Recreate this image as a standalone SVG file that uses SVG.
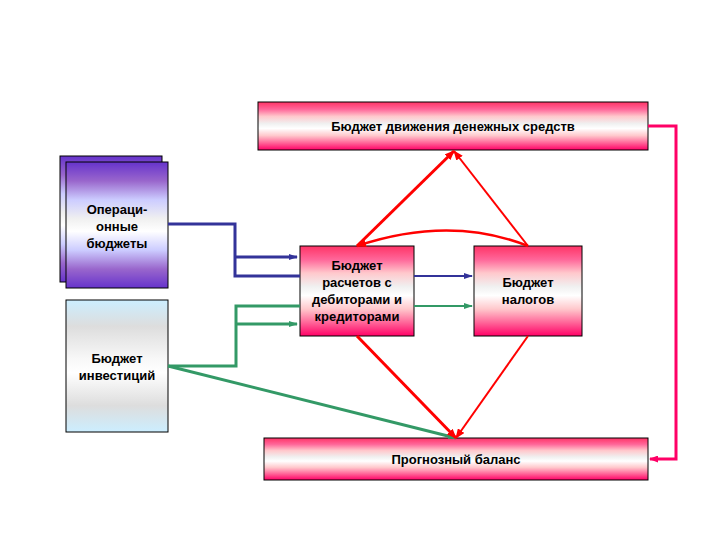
<svg xmlns="http://www.w3.org/2000/svg" width="720" height="540" viewBox="0 0 720 540">
<style>
text{font-family:"Liberation Sans",Arial,sans-serif;font-size:13px;font-weight:bold;fill:#000;text-anchor:middle}
.box{stroke:#000;stroke-width:1}
.c{fill:none}
</style>
<defs>
<linearGradient id="pink" x1="0" y1="0" x2="0" y2="1">
<stop offset="0" stop-color="#ff3366"/><stop offset="0.15" stop-color="#ff6699"/><stop offset="0.3" stop-color="#ffc8cc"/><stop offset="0.45" stop-color="#f0f0f0"/><stop offset="0.55" stop-color="#ffffff"/><stop offset="0.7" stop-color="#ffc8cc"/><stop offset="0.85" stop-color="#ff6699"/><stop offset="1" stop-color="#ff0066"/>
</linearGradient>
<linearGradient id="violet" x1="0" y1="0" x2="0" y2="1">
<stop offset="0" stop-color="#6633cc"/><stop offset="0.15" stop-color="#9966cc"/><stop offset="0.3" stop-color="#ccccff"/><stop offset="0.45" stop-color="#f0f0f0"/><stop offset="0.55" stop-color="#ffffff"/><stop offset="0.7" stop-color="#ccccff"/><stop offset="0.85" stop-color="#9966cc"/><stop offset="1" stop-color="#6633cc"/>
</linearGradient>
<linearGradient id="blue" x1="0" y1="0" x2="0" y2="1">
<stop offset="0" stop-color="#cceeff"/><stop offset="0.2" stop-color="#dddddd"/><stop offset="0.45" stop-color="#f8f8f8"/><stop offset="0.55" stop-color="#ffffff"/><stop offset="0.8" stop-color="#dddddd"/><stop offset="1" stop-color="#cceeff"/>
</linearGradient>
<marker id="ar" markerWidth="10" markerHeight="8" refX="9" refY="4" orient="auto" markerUnits="userSpaceOnUse"><path d="M0,0L10,4L0,8z" fill="#ff0000"/></marker>
<marker id="ab" markerWidth="9" markerHeight="6" refX="8" refY="3" orient="auto" markerUnits="userSpaceOnUse"><path d="M0,0L9,3L0,6z" fill="#333399"/></marker>
<marker id="ag" markerWidth="9" markerHeight="6" refX="8" refY="3" orient="auto" markerUnits="userSpaceOnUse"><path d="M0,0L9,3L0,6z" fill="#339966"/></marker>
<marker id="ap" markerWidth="9" markerHeight="7" refX="8" refY="3.5" orient="auto" markerUnits="userSpaceOnUse"><path d="M0,0L9,3.5L0,7z" fill="#ff0066"/></marker>
</defs>
<rect width="720" height="540" fill="#fff"/>
<g id="cashflow"><rect class="box" x="258" y="102" width="390" height="48" fill="url(#pink)"/><text x="453" y="131">Бюджет движения денежных средств</text></g>
<g id="forecast"><rect class="box" x="264" y="438" width="384" height="42" fill="url(#pink)"/><text x="456" y="464">Прогнозный баланс</text></g>
<g id="settlements"><rect class="box" x="300" y="246" width="114" height="90" fill="url(#pink)"/>
<text x="357" y="270">Бюджет</text><text x="357" y="287">расчетов с</text><text x="357" y="304">дебиторами и</text><text x="357" y="321">кредиторами</text></g>
<g id="taxes"><rect class="box" x="474" y="246" width="108" height="90" fill="url(#pink)"/><text x="528" y="287">Бюджет</text><text x="528" y="304">налогов</text></g>
<g id="operational"><rect class="box" x="60" y="156" width="102" height="126" fill="url(#violet)"/><rect class="box" x="66" y="162" width="102" height="126" fill="url(#violet)"/>
<text x="117" y="214">Операци-</text><text x="117" y="231">онные</text><text x="117" y="248">бюджеты</text></g>
<g id="investment"><rect class="box" x="66" y="300" width="102" height="132" fill="url(#blue)"/><text x="117" y="363">Бюджет</text><text x="117" y="380">инвестиций</text></g>
<g id="connectors" class="c">
<path d="M168,224H235V276H300" stroke="#333399" stroke-width="3"/>
<path d="M235,257H297" stroke="#333399" stroke-width="3" marker-end="url(#ab)"/>
<path d="M414,276H472" stroke="#333399" stroke-width="2" marker-end="url(#ab)"/>
<path d="M168,366H236V306H300" stroke="#339966" stroke-width="3"/>
<path d="M236,324H297" stroke="#339966" stroke-width="3" marker-end="url(#ag)"/>
<path d="M414,306H472" stroke="#339966" stroke-width="2" marker-end="url(#ag)"/>
<path d="M168,366L456,438" stroke="#339966" stroke-width="3" marker-end="url(#ag)"/>
<path d="M357,246L454,151" stroke="#ff0000" stroke-width="3" marker-end="url(#ar)"/>
<path d="M528,246L454,151" stroke="#ff0000" stroke-width="2" marker-end="url(#ar)"/>
<path d="M528,246Q450,215 357,246" stroke="#ff0000" stroke-width="2.5" marker-end="url(#ar)"/>
<path d="M357,336L456,438" stroke="#ff0000" stroke-width="3" marker-end="url(#ar)"/>
<path d="M528,336L456,438" stroke="#ff0000" stroke-width="2" marker-end="url(#ar)"/>
<path d="M648,126H676V459H650" stroke="#ff0066" stroke-width="3" marker-end="url(#ap)"/>
</g>
</svg>
